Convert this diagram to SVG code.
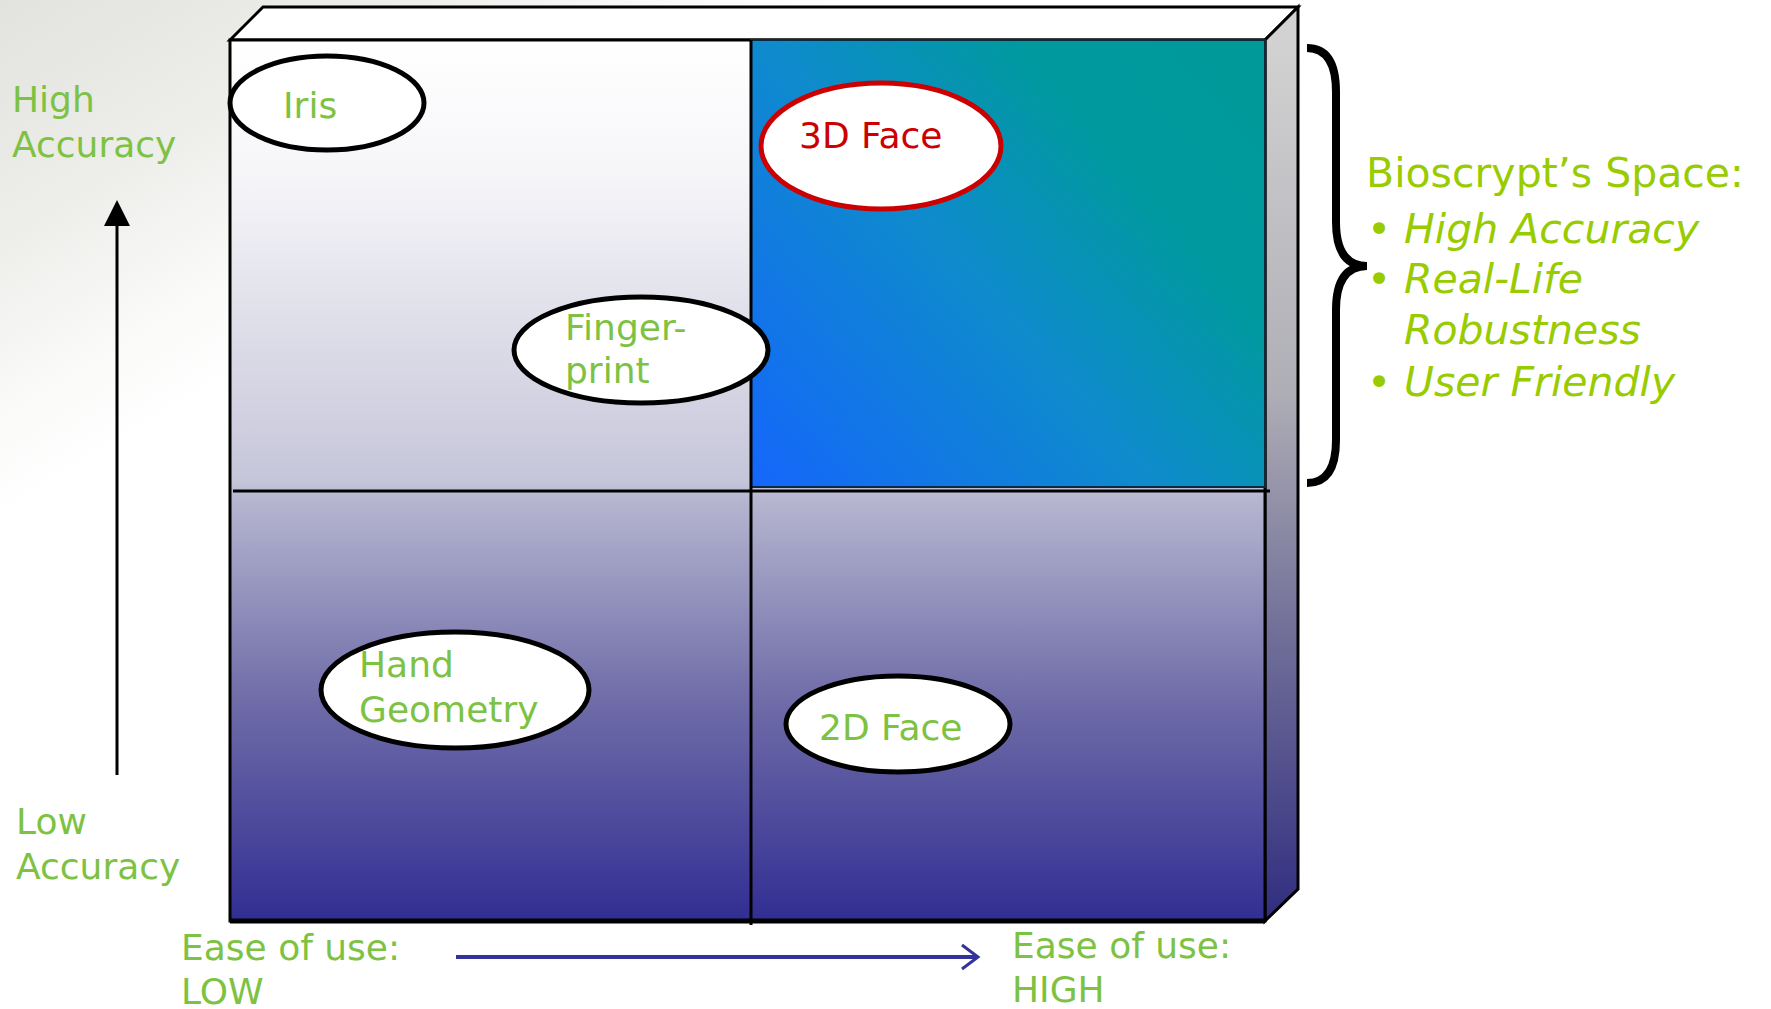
<svg xmlns="http://www.w3.org/2000/svg" width="1771" height="1009" viewBox="0 0 1771 1009">
<defs>
<linearGradient id="bg" x1="0" y1="0" x2="230" y2="380" gradientUnits="userSpaceOnUse">
<stop offset="0" stop-color="#e2e2de"/>
<stop offset="0.45" stop-color="#ededea"/>
<stop offset="0.8" stop-color="#fafaf9"/>
<stop offset="1" stop-color="#ffffff"/>
</linearGradient>
<linearGradient id="face" x1="0" y1="40" x2="0" y2="921" gradientUnits="userSpaceOnUse">
<stop offset="0" stop-color="#ffffff"/>
<stop offset="0.15" stop-color="#f6f6f9"/>
<stop offset="0.5" stop-color="#c6c6da"/>
<stop offset="0.52" stop-color="#b6b6d0"/>
<stop offset="0.75" stop-color="#6f6ca8"/>
<stop offset="1" stop-color="#312e93"/>
</linearGradient>
<linearGradient id="side" x1="0" y1="40" x2="0" y2="921" gradientUnits="userSpaceOnUse">
<stop offset="0" stop-color="#d2d2d2"/>
<stop offset="0.4" stop-color="#aeaeb6"/>
<stop offset="0.65" stop-color="#76749a"/>
<stop offset="1" stop-color="#302d80"/>
</linearGradient>
<linearGradient id="blue" x1="751" y1="487" x2="1265" y2="40" gradientUnits="userSpaceOnUse">
<stop offset="0" stop-color="#1566fb"/>
<stop offset="0.45" stop-color="#0e8bcc"/>
<stop offset="0.72" stop-color="#00999f"/>
<stop offset="1" stop-color="#009999"/>
</linearGradient>
<style>
.lbl{font-family:"DejaVu Sans",Verdana,sans-serif;font-size:36px;fill:#7dc243}
.rt{font-family:"DejaVu Sans",Verdana,sans-serif;font-size:41px;fill:#99cc00}
.it{font-style:italic}
.ell{fill:#ffffff;stroke:#000;stroke-width:5}
.edge{stroke:#000;stroke-width:3}
</style>
</defs>
<rect width="1771" height="1009" fill="url(#bg)"/>

<g id="cube">
<polygon points="230,40 263,7 1298,7 1265,40" fill="#ffffff" class="edge"/>
<polygon points="1265,40 1298,7 1298,889 1265,921" fill="url(#side)" class="edge"/>
<rect x="230" y="40" width="1035" height="881" fill="url(#face)" class="edge"/>
<rect x="751" y="40" width="514" height="447" fill="url(#blue)" stroke="#0a2a40" stroke-width="2"/>
<line x1="230" y1="921" x2="1265" y2="921" stroke="#000" stroke-width="5"/>
<line x1="751" y1="40" x2="751" y2="925" stroke="#000" stroke-width="3"/>
<line x1="233" y1="491" x2="1270" y2="491" stroke="#000" stroke-width="3"/>
</g>

<g id="iris">
<ellipse cx="327" cy="103" rx="97" ry="47" class="ell"/>
<text x="283" y="118" class="lbl">Iris</text>
</g>
<g id="face3d">
<ellipse cx="881" cy="146" rx="120" ry="63" fill="#fff" stroke="#cc0000" stroke-width="5"/>
<text x="799" y="148" class="lbl" style="fill:#cc0000">3D Face</text>
</g>
<g id="fingerprint">
<ellipse cx="641" cy="350" rx="127" ry="53" class="ell"/>
<text x="565" y="340" class="lbl">Finger-</text>
<text x="565" y="383" class="lbl">print</text>
</g>
<g id="hand">
<ellipse cx="455" cy="690" rx="134" ry="58" class="ell"/>
<text x="359" y="677" class="lbl">Hand</text>
<text x="359" y="722" class="lbl">Geometry</text>
</g>
<g id="face2d">
<ellipse cx="898" cy="724" rx="112" ry="48" class="ell"/>
<text x="819" y="740" class="lbl">2D Face</text>
</g>

<g id="axis-labels">
<text x="12" y="112" class="lbl">High</text>
<text x="12" y="157" class="lbl">Accuracy</text>
<text x="16" y="834" class="lbl">Low</text>
<text x="16" y="879" class="lbl">Accuracy</text>
<text x="181" y="960" class="lbl">Ease of use:</text>
<text x="181" y="1004" class="lbl">LOW</text>
<text x="1012" y="958" class="lbl">Ease of use:</text>
<text x="1012" y="1002" class="lbl">HIGH</text>
</g>

<g id="connectors">
<line x1="117" y1="775" x2="117" y2="224" stroke="#000" stroke-width="3"/>
<polygon points="117,200 130,226 104,226" fill="#000"/>
<line x1="456" y1="957" x2="976" y2="957" stroke="#333399" stroke-width="4"/>
<polyline points="962,945 978,957 962,969" fill="none" stroke="#333399" stroke-width="3"/>
</g>

<g id="bracket">
<path d="M1307,48 Q1336,48 1336,92 L1336,222 Q1336,266 1367,266 Q1336,266 1336,310 L1336,440 Q1336,483 1307,483" fill="none" stroke="#000" stroke-width="8"/>
</g>

<g id="space-text">
<text x="1366" y="187" class="rt">Bioscrypt’s Space:</text>
<text x="1367" y="243" class="rt">•</text>
<text x="1404" y="243" class="rt it">High Accuracy</text>
<text x="1367" y="293" class="rt">•</text>
<text x="1404" y="293" class="rt it">Real-Life</text>
<text x="1404" y="344" class="rt it">Robustness</text>
<text x="1367" y="396" class="rt">•</text>
<text x="1404" y="396" class="rt it">User Friendly</text>
</g>
</svg>
